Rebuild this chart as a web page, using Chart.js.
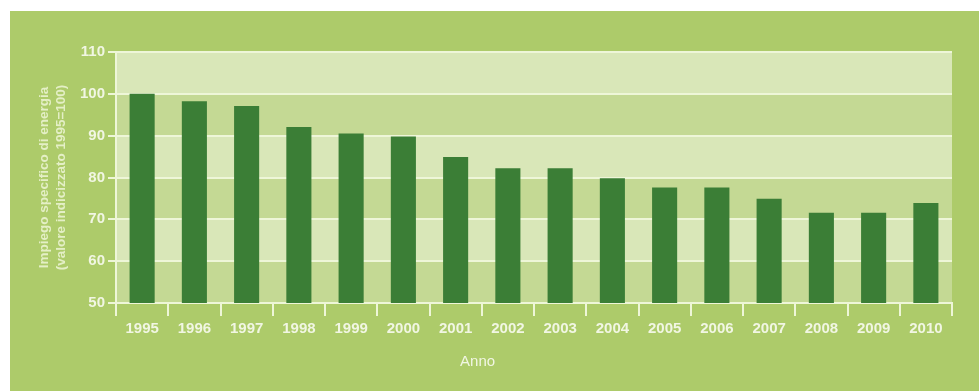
<!DOCTYPE html>
<html>
<head>
<meta charset="utf-8">
<script src="https://cdn.jsdelivr.net/npm/chart.js@4/dist/chart.umd.min.js"></script>
<style>
    html, body { margin: 0; padding: 0; background: #ffffff; }
    #box { width: 979px; height: 391px; }
</style>
</head>
<body>
<div id="box"><canvas id="grafico"></canvas></div>
<script>
// dati
var anni = ['1995', '1996', '1997', '1998', '1999', '2000', '2001', '2002',
            '2003', '2004', '2005', '2006', '2007', '2008', '2009', '2010'];
var impiego = [100, 98.2, 97.1, 92.1, 90.5, 89.8, 84.9, 82.2,
               82.2, 79.8, 77.6, 77.6, 74.9, 71.6, 71.6, 73.9];
var titoloY = ['Impiego specifico di energia', '(valore indicizzato 1995=100)'];
var titoloX = 'Anno';

var verdePannello = '#adcb6a';
var bandaChiara = '#d9e7b8';
var bandaScura = '#c4d994';
var lineaChiara = '#eef6d8';
var testo = '#f1f6e3';

var sfondo = {
    id: 'sfondo',
    beforeDraw: function (chart) {
        var ctx = chart.ctx;
        ctx.save();
        ctx.fillStyle = verdePannello;
        ctx.fillRect(10, 11, chart.width - 10, chart.height - 11);
        // bande alternate ogni 10 unita
        var y = chart.scales.y;
        var area = chart.chartArea;
        for (var v = 50; v < 110; v += 10) {
            var top = y.getPixelForValue(v + 10);
            var bot = y.getPixelForValue(v);
            ctx.fillStyle = ((v / 10) % 2 === 0) ? bandaChiara : bandaScura;
            ctx.fillRect(area.left, top, area.right - area.left, bot - top);
        }
        ctx.restore();
    },
    afterDraw: function (chart) {
        var ctx = chart.ctx;
        var x = chart.scales.x;
        ctx.save();
        ctx.fillStyle = testo;
        ctx.font = '15px "Liberation Sans", Arial, sans-serif';
        ctx.textAlign = 'center';
        ctx.textBaseline = 'middle';
        ctx.fillText(titoloX, x.getPixelForValue(6.42), 362);
        ctx.restore();
    }
};

var ctx = document.getElementById('grafico').getContext('2d');
var miGrafico = new Chart(ctx, {
    type: 'bar',
    data: {
        labels: anni,
        datasets: [{
            data: impiego,
            backgroundColor: '#3b7e36',
            borderWidth: 0,
            barPercentage: 0.48,
            categoryPercentage: 1
        }]
    },
    options: {
        responsive: true,
        maintainAspectRatio: false,
        animation: false,
        layout: { padding: { left: 10, top: 52, right: 27, bottom: 0 } },
        plugins: {
            legend: { display: false },
            tooltip: { enabled: false }
        },
        scales: {
            x: {
                afterFit: function (scale) { scale.height = 88; },
                grid: {
                    offset: true,
                    drawOnChartArea: false,
                    color: lineaChiara,
                    lineWidth: 2,
                    tickLength: 13
                },
                border: { color: lineaChiara, width: 2 },
                ticks: {
                    color: testo,
                    padding: 4,
                    font: { family: '"Liberation Sans", Arial, sans-serif', size: 15, weight: 'bold' }
                }
            },
            y: {
                min: 50,
                max: 110,
                afterFit: function (scale) { scale.width = 106; },
                ticks: {
                    stepSize: 10,
                    color: testo,
                    padding: 3,
                    font: { family: '"Liberation Sans", Arial, sans-serif', size: 15, weight: 'bold' }
                },
                grid: {
                    color: lineaChiara,
                    lineWidth: 2,
                    tickLength: 8
                },
                border: { color: lineaChiara, width: 2 },
                title: {
                    display: true,
                    text: titoloY,
                    color: '#e4efc6',
                    padding: { top: 26.5, bottom: 0 },
                    font: { family: '"Liberation Sans", Arial, sans-serif', size: 13.5, weight: 'bold', lineHeight: 1.22 }
                }
            }
        }
    },
    plugins: [sfondo]
});
</script>
</body>
</html>
